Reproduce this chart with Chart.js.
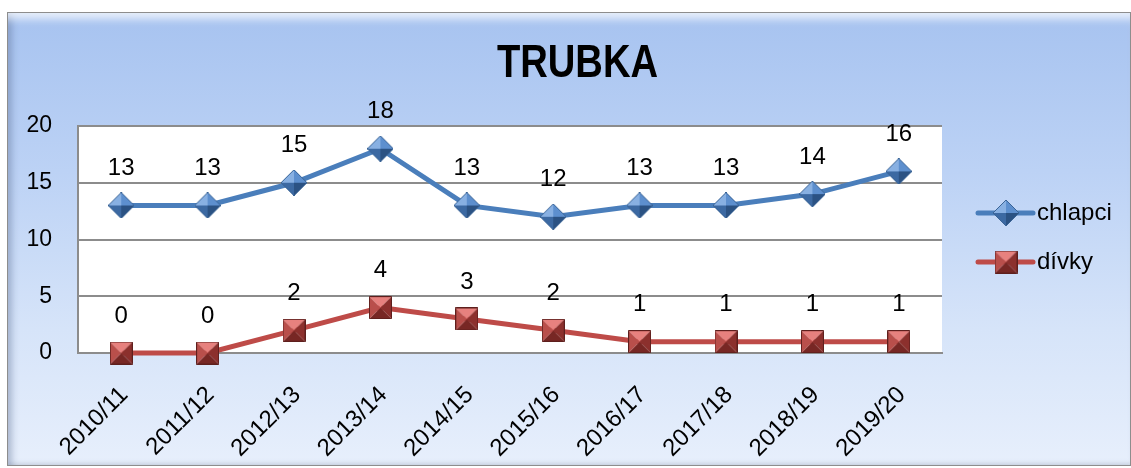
<!DOCTYPE html>
<html>
<head>
<meta charset="utf-8">
<script src="https://cdn.jsdelivr.net/npm/chart.js@4/dist/chart.umd.min.js"></script>
<style>
    html, body { margin: 0; padding: 0; background: #fff; }
    #wrap { position: relative; width: 1131px; height: 468px; overflow: hidden; }
    #frame {
        position: absolute; left: 7px; top: 12px; width: 1122px; height: 452px;
        border: 1px solid #8d8d8d;
        background: linear-gradient(to bottom, #a7c3f0 0%, #bcd2f5 35%, #d6e4f9 70%, #e7effc 100%);
        box-shadow: inset 0 12px 8px -6px rgba(255,255,255,0.75), inset 9px 0 7px -5px rgba(70,90,130,0.35), inset 0 -4px 4px -2px rgba(120,130,150,0.25);
    }
    #chart { position: absolute; left: 0; top: 0; }
</style>
</head>
<body>
<div id="wrap">
    <div id="frame"></div>
    <canvas id="chart" width="1131" height="468"></canvas>
</div>
<script>
// data
const seasons = ['2010/11', '2011/12', '2012/13', '2013/14', '2014/15', '2015/16', '2016/17', '2017/18', '2018/19', '2019/20'];
const chlapci = [13, 13, 15, 18, 13, 12, 13, 13, 14, 16];
const divky = [0, 0, 2, 4, 3, 2, 1, 1, 1, 1];
const yTicks = [0, 5, 10, 15, 20];
const chartTitle = 'TRUBKA';

const FONT = "'Liberation Sans', Arial, sans-serif";

// pyramid-shaded marker (Excel 3D-ish look)
function makeMarker(shape, size, faces, edge) {
    const c = document.createElement('canvas');
    c.width = size; c.height = size;
    const ctx = c.getContext('2d');
    const h = size / 2;
    let pts;
    if (shape === 'diamond') {
        pts = [[h, 0], [size, h], [h, size], [0, h]];
    } else {
        pts = [[0.5, 0.5], [size - 0.5, 0.5], [size - 0.5, size - 0.5], [0.5, size - 0.5]];
    }
    for (let i = 0; i < 4; i++) {
        const a = pts[i], b = pts[(i + 1) % 4];
        ctx.beginPath();
        ctx.moveTo(h, h);
        ctx.lineTo(a[0], a[1]);
        ctx.lineTo(b[0], b[1]);
        ctx.closePath();
        ctx.fillStyle = faces[i];
        ctx.fill();
    }
    ctx.beginPath();
    pts.forEach((p, i) => i ? ctx.lineTo(p[0], p[1]) : ctx.moveTo(p[0], p[1]));
    ctx.closePath();
    ctx.strokeStyle = edge;
    ctx.lineWidth = 1;
    ctx.stroke();
    return c;
}

// faces: diamond UR, LR, LL, UL / square top, right, bottom, left
const blueMarker = makeMarker('diamond', 26, ['#5d8fce', '#2b5283', '#3c69a2', '#88b0e2'], '#3a6496');
const redMarker = makeMarker('square', 23, ['#e7817e', '#8c302d', '#772724', '#b94f4b'], '#5e1f1d');

const series = [
    { label: 'chlapci', data: chlapci, color: '#4a7ebb', marker: blueMarker },
    { label: 'dívky', data: divky, color: '#be4b48', marker: redMarker }
];

// white plot area + title
const backgroundPlugin = {
    id: 'plotBackground',
    beforeDraw(chart) {
        const { ctx, chartArea } = chart;
        ctx.save();
        ctx.fillStyle = '#ffffff';
        ctx.fillRect(chartArea.left, chartArea.top, chartArea.right - chartArea.left, chartArea.bottom - chartArea.top);
        // title, narrowed to mimic the condensed office font
        ctx.translate(chart.width / 2 + 12, 64);
        ctx.scale(0.83, 1);
        ctx.fillStyle = '#000';
        ctx.font = 'bold 46px ' + FONT;
        ctx.textAlign = 'center';
        ctx.textBaseline = 'middle';
        ctx.fillText(chartTitle, 0, 0);
        ctx.restore();
    }
};

// value labels above points
const valueLabelPlugin = {
    id: 'valueLabels',
    afterDatasetsDraw(chart) {
        const { ctx } = chart;
        ctx.save();
        ctx.fillStyle = '#000';
        ctx.font = '24px ' + FONT;
        ctx.textAlign = 'center';
        ctx.textBaseline = 'middle';
        chart.data.datasets.forEach((ds, i) => {
            chart.getDatasetMeta(i).data.forEach((pt, j) => {
                ctx.fillText(String(ds.data[j]), pt.x, pt.y - 37);
            });
        });
        ctx.restore();
    }
};

// legend on the right: line through marker + label
const legendPlugin = {
    id: 'sideLegend',
    afterDraw(chart) {
        const { ctx, chartArea } = chart;
        const x0 = chartArea.right + 36;
        const rowY = [213, 262];
        ctx.save();
        series.forEach((s, i) => {
            const y = rowY[i];
            ctx.strokeStyle = s.color;
            ctx.lineWidth = 5;
            ctx.lineCap = 'round';
            ctx.beginPath();
            ctx.moveTo(x0, y);
            ctx.lineTo(x0 + 55, y);
            ctx.stroke();
            ctx.drawImage(s.marker, x0 + 28 - s.marker.width / 2, y - s.marker.height / 2);
            ctx.fillStyle = '#000';
            ctx.font = '24px ' + FONT;
            ctx.textAlign = 'left';
            ctx.textBaseline = 'middle';
            ctx.fillText(s.label, x0 + 59, y);
        });
        ctx.restore();
    }
};

new Chart(document.getElementById('chart'), {
    type: 'line',
    data: {
        labels: seasons,
        datasets: series.map(s => ({
            label: s.label,
            data: s.data,
            borderColor: s.color,
            backgroundColor: s.color,
            borderWidth: 5,
            tension: 0,
            clip: false,
            pointStyle: s.marker,
            pointRadius: 12,
            pointHoverRadius: 12
        }))
    },
    options: {
        responsive: false,
        animation: false,
        events: [],
        layout: {
            padding: { top: 126, right: 189, bottom: 0, left: 0 }
        },
        plugins: {
            legend: { display: false },
            title: { display: false },
            tooltip: { enabled: false }
        },
        scales: {
            x: {
                offset: true,
                afterFit(scale) { scale.height = 115; },
                grid: { display: false, drawTicks: false },
                border: { display: true, color: '#8c8c8c', width: 2 },
                ticks: {
                    autoSkip: false,
                    minRotation: 45,
                    maxRotation: 45,
                    padding: 28,
                    labelOffset: 3,
                    color: '#000',
                    font: { family: FONT, size: 24 }
                }
            },
            y: {
                min: yTicks[0],
                max: yTicks[yTicks.length - 1],
                afterFit(scale) { scale.width = 78; },
                afterBuildTicks(scale) { scale.ticks = yTicks.map(v => ({ value: v })); },
                grid: { color: '#8c8c8c', lineWidth: 2, drawTicks: false },
                border: { display: true, color: '#8c8c8c', width: 2 },
                ticks: {
                    padding: 26,
                    color: '#000',
                    font: { family: FONT, size: 23 }
                }
            }
        }
    },
    plugins: [backgroundPlugin, valueLabelPlugin, legendPlugin]
});
</script>
</body>
</html>
